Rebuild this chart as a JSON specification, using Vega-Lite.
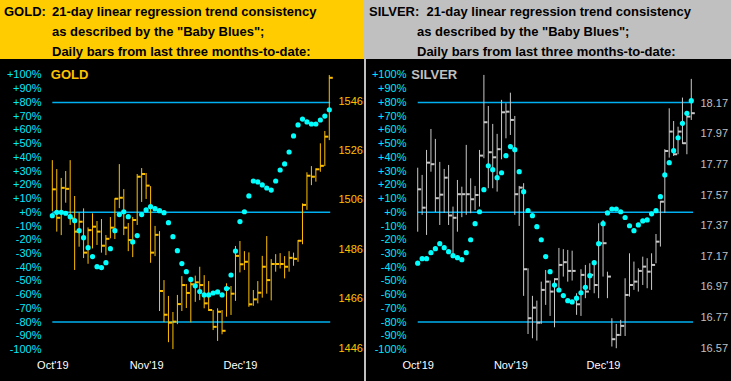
{
  "$schema": "https://vega.github.io/schema/vega-lite/v6.json",
  "background": "#c0c0c0",
  "padding": 0,
  "spacing": 2,
  "config": {"view": {"stroke": null}},
  "datasets": {
    "gold": [
      {"i":0,"h":1522.1,"l":1501.5,"c":1510.3,"p":-2.5},
      {"i":1,"h":1518.5,"l":1493.2,"c":1498.8,"p":0},
      {"i":2,"h":1514.9,"l":1491.8,"c":1510.9,"p":0},
      {"i":3,"h":1517.7,"l":1504.9,"c":1510.5,"p":-0.7},
      {"i":4,"h":1522.1,"l":1495.9,"c":1498.6,"p":-3.2},
      {"i":5,"h":1507.6,"l":1477.7,"c":1493.2,"p":-6.1},
      {"i":6,"h":1501.0,"l":1487.1,"c":1497.2,"p":-13.4},
      {"i":7,"h":1502.6,"l":1482.5,"c":1484.7,"p":-18.5},
      {"i":8,"h":1494.9,"l":1480.2,"c":1493.8,"p":-25.8},
      {"i":9,"h":1500.6,"l":1486.4,"c":1495.2,"p":-32.3},
      {"i":10,"h":1497.5,"l":1487.8,"c":1493.2,"p":-39.6},
      {"i":11,"h":1498.3,"l":1484.7,"c":1487.5,"p":-40.3},
      {"i":12,"h":1491.8,"l":1483.7,"c":1490.3,"p":-36.7},
      {"i":13,"h":1499.1,"l":1490.5,"c":1494.8,"p":-26.5},
      {"i":14,"h":1506.7,"l":1490.2,"c":1506.5,"p":-13.4},
      {"i":15,"h":1520.5,"l":1502.7,"c":1506.9,"p":-1.7},
      {"i":16,"h":1510.4,"l":1491.8,"c":1494.8,"p":0.4},
      {"i":17,"h":1496.7,"l":1485.3,"c":1489.8,"p":-3.2},
      {"i":18,"h":1499.1,"l":1482.9,"c":1497.9,"p":-21.6},
      {"i":19,"h":1516.5,"l":1495.9,"c":1515.4,"p":-17.0},
      {"i":20,"h":1518.9,"l":1505.2,"c":1516.5,"p":-1.7},
      {"i":21,"h":1516.9,"l":1506.4,"c":1511.8,"p":1.7},
      {"i":22,"h":1511.6,"l":1480.6,"c":1484.7,"p":4.1},
      {"i":23,"h":1495.5,"l":1483.3,"c":1491.9,"p":2.6},
      {"i":24,"h":1493.4,"l":1461.1,"c":1469.2,"p":1.2},
      {"i":25,"h":1473.6,"l":1456.6,"c":1459.6,"p":-0.3},
      {"i":26,"h":1467.2,"l":1448.5,"c":1456.4,"p":-7.6},
      {"i":27,"h":1460.7,"l":1445.7,"c":1456.8,"p":-17.8},
      {"i":28,"h":1467.6,"l":1455.8,"c":1463.9,"p":-28.0},
      {"i":29,"h":1475.2,"l":1461.1,"c":1471.6,"p":-37.4},
      {"i":30,"h":1472.0,"l":1462.3,"c":1468.4,"p":-43.3},
      {"i":31,"h":1474.3,"l":1456.5,"c":1471.9,"p":-48.9},
      {"i":32,"h":1475.4,"l":1464.8,"c":1472.7,"p":-53.6},
      {"i":33,"h":1479.0,"l":1465.5,"c":1471.6,"p":-57.7},
      {"i":34,"h":1475.6,"l":1462.2,"c":1464.2,"p":-60.2},
      {"i":35,"h":1473.2,"l":1461.1,"c":1461.5,"p":-60.2},
      {"i":36,"h":1461.5,"l":1453.4,"c":1454.7,"p":-58.8},
      {"i":37,"h":1462.2,"l":1449.0,"c":1460.8,"p":-58.0},
      {"i":38,"h":1461.5,"l":1451.7,"c":1453.1,"p":-60.2},
      {"i":39,"h":1472.3,"l":1458.8,"c":1470.3,"p":-55.6},
      {"i":40,"h":1471.2,"l":1459.5,"c":1468.1,"p":-45.7},
      {"i":41,"h":1487.4,"l":1465.2,"c":1483.4,"p":-28.2},
      {"i":42,"h":1489.4,"l":1476.7,"c":1480.0,"p":-6.8},
      {"i":43,"h":1485.3,"l":1477.7,"c":1481.0,"p":0.4},
      {"i":44,"h":1484.8,"l":1462.8,"c":1463.8,"p":11.9},
      {"i":45,"h":1469.6,"l":1463.2,"c":1465.8,"p":22.8},
      {"i":46,"h":1473.2,"l":1464.2,"c":1468.5,"p":22.1},
      {"i":47,"h":1483.4,"l":1466.5,"c":1479.0,"p":19.9},
      {"i":48,"h":1491.4,"l":1468.1,"c":1473.6,"p":17.7},
      {"i":49,"h":1482.1,"l":1465.4,"c":1480.1,"p":16.2},
      {"i":50,"h":1484.1,"l":1477.0,"c":1480.1,"p":22.8},
      {"i":51,"h":1484.5,"l":1478.3,"c":1480.1,"p":30.8},
      {"i":52,"h":1483.3,"l":1474.3,"c":1479.0,"p":35.2},
      {"i":53,"h":1485.3,"l":1477.0,"c":1482.6,"p":43.9},
      {"i":54,"h":1484.7,"l":1479.4,"c":1482.2,"p":55.6},
      {"i":55,"h":1489.8,"l":1481.0,"c":1489.5,"p":63.6},
      {"i":56,"h":1504.6,"l":1488.1,"c":1504.0,"p":67.9},
      {"i":57,"h":1517.2,"l":1502.0,"c":1515.8,"p":65.8},
      {"i":58,"h":1519.7,"l":1512.0,"c":1515.4,"p":64.3},
      {"i":59,"h":1518.8,"l":1513.4,"c":1518.4,"p":64.3},
      {"i":60,"h":1528.9,"l":1517.4,"c":1519.8,"p":67.2},
      {"i":61,"h":1533.9,"l":1519.7,"c":1531.6,"p":70.1},
      {"i":62,"h":1556.5,"l":1530.2,"c":1555.4,"p":74.7}
    ],
    "silver": [
      {"i":0,"h":17.749,"l":17.331,"c":17.608,"p":-37.1},
      {"i":1,"h":17.702,"l":17.441,"c":17.488,"p":-33.8},
      {"i":2,"h":17.865,"l":17.310,"c":17.782,"p":-33.8},
      {"i":3,"h":18.002,"l":17.723,"c":17.772,"p":-29.4},
      {"i":4,"h":17.937,"l":17.460,"c":17.550,"p":-26.5},
      {"i":5,"h":17.787,"l":17.375,"c":17.573,"p":-22.9},
      {"i":6,"h":17.741,"l":17.454,"c":17.684,"p":-25.8},
      {"i":7,"h":17.767,"l":17.375,"c":17.437,"p":-28.7},
      {"i":8,"h":17.495,"l":17.168,"c":17.422,"p":-31.6},
      {"i":9,"h":17.669,"l":17.331,"c":17.576,"p":-33.1},
      {"i":10,"h":17.625,"l":17.426,"c":17.576,"p":-34.5},
      {"i":11,"h":17.898,"l":17.441,"c":17.576,"p":-29.4},
      {"i":12,"h":17.680,"l":17.452,"c":17.543,"p":-20.0},
      {"i":13,"h":17.630,"l":17.473,"c":17.571,"p":-8.3},
      {"i":14,"h":17.865,"l":17.495,"c":17.828,"p":0.4},
      {"i":15,"h":18.355,"l":17.811,"c":18.046,"p":16.5},
      {"i":16,"h":18.152,"l":17.615,"c":17.850,"p":33.9},
      {"i":17,"h":18.035,"l":17.615,"c":17.817,"p":31.0},
      {"i":18,"h":17.970,"l":17.593,"c":17.870,"p":25.2},
      {"i":19,"h":18.192,"l":17.804,"c":18.111,"p":28.8},
      {"i":20,"h":18.170,"l":17.941,"c":18.115,"p":41.2},
      {"i":21,"h":18.239,"l":17.963,"c":18.061,"p":47.8},
      {"i":22,"h":18.087,"l":17.441,"c":17.576,"p":45.6},
      {"i":23,"h":17.630,"l":17.369,"c":17.619,"p":29.6},
      {"i":24,"h":17.648,"l":16.912,"c":17.086,"p":15.0},
      {"i":25,"h":17.092,"l":16.663,"c":16.766,"p":1.3},
      {"i":26,"h":16.912,"l":16.635,"c":16.835,"p":-2.5},
      {"i":27,"h":16.881,"l":16.620,"c":16.737,"p":-10.5},
      {"i":28,"h":17.005,"l":16.729,"c":16.951,"p":-20.0},
      {"i":29,"h":17.081,"l":16.853,"c":17.005,"p":-32.3},
      {"i":30,"h":17.012,"l":16.781,"c":16.940,"p":-43.3},
      {"i":31,"h":17.027,"l":16.707,"c":17.021,"p":-53.0},
      {"i":32,"h":17.225,"l":16.938,"c":17.114,"p":-56.6},
      {"i":33,"h":17.217,"l":17.038,"c":17.132,"p":-60.7},
      {"i":34,"h":17.212,"l":17.005,"c":17.075,"p":-64.4},
      {"i":35,"h":17.207,"l":17.012,"c":17.075,"p":-65.3},
      {"i":36,"h":16.929,"l":16.788,"c":16.857,"p":-62.6},
      {"i":37,"h":17.086,"l":16.781,"c":17.049,"p":-58.6},
      {"i":38,"h":17.114,"l":16.897,"c":16.940,"p":-54.6},
      {"i":39,"h":17.125,"l":16.951,"c":17.049,"p":-46.2},
      {"i":40,"h":17.136,"l":16.929,"c":16.983,"p":-36.7},
      {"i":41,"h":17.386,"l":16.897,"c":17.256,"p":-22.9},
      {"i":42,"h":17.408,"l":17.038,"c":17.256,"p":-8.3},
      {"i":43,"h":17.070,"l":16.897,"c":17.038,"p":-0.5},
      {"i":44,"h":16.766,"l":16.581,"c":16.629,"p":2.4},
      {"i":45,"h":16.729,"l":16.570,"c":16.657,"p":2.4},
      {"i":46,"h":16.755,"l":16.650,"c":16.716,"p":0.4},
      {"i":47,"h":17.027,"l":16.650,"c":16.918,"p":-3.8},
      {"i":48,"h":17.190,"l":16.907,"c":16.983,"p":-9.8},
      {"i":49,"h":17.136,"l":16.951,"c":17.005,"p":-13.4},
      {"i":50,"h":17.092,"l":16.940,"c":17.075,"p":-9.2},
      {"i":51,"h":17.168,"l":16.983,"c":17.103,"p":-6.3},
      {"i":52,"h":17.158,"l":16.962,"c":17.070,"p":-5.6},
      {"i":53,"h":17.190,"l":16.951,"c":17.114,"p":-1.1},
      {"i":54,"h":17.316,"l":17.125,"c":17.266,"p":1.2},
      {"i":55,"h":17.532,"l":17.234,"c":17.527,"p":11.4},
      {"i":56,"h":17.870,"l":17.454,"c":17.858,"p":27.2},
      {"i":57,"h":18.137,"l":17.815,"c":17.985,"p":36.1},
      {"i":58,"h":18.054,"l":17.826,"c":17.837,"p":44.9},
      {"i":59,"h":18.017,"l":17.837,"c":17.985,"p":54.3},
      {"i":60,"h":18.207,"l":17.904,"c":17.909,"p":64.8},
      {"i":61,"h":18.120,"l":17.837,"c":18.083,"p":72.1},
      {"i":62,"h":18.329,"l":18.061,"c":18.105,"p":81.3}
    ],
    "lines": [{"v":80},{"v":0},{"v":-80}]
  },
  "hconcat": [
    {
      "spacing": 0,
      "vconcat": [
        {
          "width": 364, "height": 59,
          "view": {"fill": "#FFCC00", "stroke": null},
          "data": {"values": [
            {"col":"a","line":1,"t":"GOLD:"},
            {"col":"b","line":1,"t":"21-day linear regression trend consistency"},
            {"col":"b","line":2,"t":"as described by the \"Baby Blues\";"},
            {"col":"b","line":3,"t":"Daily bars from last three months-to-date:"}
          ]},
          "mark": {"type":"text","align":"left","baseline":"alphabetic","font":"Liberation Sans","fontSize":13,"fontWeight":"bold","color":"#000000"},
          "encoding": {
            "x": {"field":"col","type":"nominal","scale":{"type":"point","range":[4,52],"padding":0},"axis":null},
            "y": {"field":"line","type":"ordinal","scale":{"type":"point","range":[16,55.5],"padding":0},"axis":null},
            "text": {"field":"t"}
          }
        },
        {
          "width": 364, "height": 322,
          "view": {"fill": "#000000", "stroke": null},
          "resolve": {"scale": {"y": "independent"}, "axis": {"y": "independent"}},
          "layer": [
            {
              "data": {"name": "lines"},
              "mark": {"type":"rule","color":"#00B0F0","strokeWidth":1.5},
              "encoding": {
                "x": {"datum": 0, "type":"quantitative","scale":{"domain":[-11.71,69.77],"nice":false,"zero":false},
                      "axis":{"values":[0,21,42],"labelExpr":"datum.value == 0 ? \"Oct'19\" : datum.value == 21 ? \"Nov'19\" : \"Dec'19\"","title":null,"grid":false,"domain":false,"ticks":false,"tickSize":0,"labelColor":"#FFFFFF","labelFont":"Liberation Sans","labelFontSize":11,"labelPadding":-16,"labelBaseline":"middle","labelFlush":false,"labelOverlap":false}},
                "x2": {"datum": 62.2},
                "y": {"field":"v","type":"quantitative","scale":{"domain":[-122.9,111.65],"nice":false,"zero":false},
                      "axis":{"orient":"left","values":[-100,-90,-80,-70,-60,-50,-40,-30,-20,-10,0,10,20,30,40,50,60,70,80,90,100],"labelExpr":"(datum.value >= 0 ? '+' : '') + datum.value + '%'","title":null,"grid":false,"domain":false,"ticks":false,"tickSize":0,"labelColor":"#00E8FF","labelFont":"Liberation Sans","labelFontSize":11,"labelPadding":-41,"labelBaseline":"middle","labelOverlap":false,"labelFlush":false}}
              }
            },
            {
              "data": {"name": "gold"},
              "mark": {"type":"rule","color":"#FFC000","strokeWidth":1},
              "encoding": {
                "x": {"field":"i","type":"quantitative","scale":{"domain":[-11.71,69.77],"nice":false,"zero":false}},
                "y": {"field":"l","type":"quantitative","scale":{"domain":[1432.8,1563.0],"nice":false,"zero":false},
                      "axis":{"orient":"right","values":[1446,1466,1486,1506,1526,1546],"format":"d","title":null,"grid":false,"domain":false,"ticks":false,"tickSize":0,"labelColor":"#FFC000","labelFont":"Liberation Sans","labelFontSize":11,"labelPadding":-26,"labelBaseline":"middle","labelOverlap":false,"labelFlush":false}},
                "y2": {"field":"h"}
              }
            },
            {
              "data": {"name": "gold"},
              "mark": {"type":"rule","color":"#FFC000","strokeWidth":2,"x2Offset":3.5},
              "encoding": {
                "x": {"field":"i","type":"quantitative","scale":{"domain":[-11.71,69.77],"nice":false,"zero":false}},
                "x2": {"field":"i"},
                "y": {"field":"c","type":"quantitative","scale":{"domain":[1432.8,1563.0],"nice":false,"zero":false},"axis":null}
              }
            },
            {
              "data": {"name": "gold"},
              "mark": {"type":"point","filled":true,"shape":"circle","size":27,"color":"#00FFFF","opacity":1},
              "encoding": {
                "x": {"field":"i","type":"quantitative","scale":{"domain":[-11.71,69.77],"nice":false,"zero":false}},
                "y": {"field":"p","type":"quantitative","scale":{"domain":[-122.9,111.65],"nice":false,"zero":false},"axis":null}
              }
            },
            {
              "data": {"values": [{"t":"GOLD"}]},
              "mark": {"type":"text","align":"left","baseline":"middle","font":"Liberation Sans","fontSize":13,"fontWeight":"bold","color":"#FFC000","dx":-1.5},
              "encoding": {
                "x": {"datum": 0, "type":"quantitative","scale":{"domain":[-11.71,69.77],"nice":false,"zero":false}},
                "y": {"datum": 100, "type":"quantitative","scale":{"domain":[-122.9,111.65],"nice":false,"zero":false},"axis":null},
                "text": {"field":"t"}
              }
            }
          ]
        }
      ]
    },
    {
      "spacing": 0,
      "vconcat": [
        {
          "width": 365, "height": 59,
          "view": {"fill": "#C0C0C0", "stroke": null},
          "data": {"values": [
            {"col":"a","line":1,"t":"SILVER:\u00a0\u00a021-day linear regression trend consistency"},
            {"col":"b","line":2,"t":"as described by the \"Baby Blues\";"},
            {"col":"b","line":3,"t":"Daily bars from last three months-to-date:"}
          ]},
          "mark": {"type":"text","align":"left","baseline":"alphabetic","font":"Liberation Sans","fontSize":13,"fontWeight":"bold","color":"#000000"},
          "encoding": {
            "x": {"field":"col","type":"nominal","scale":{"type":"point","range":[3,51],"padding":0},"axis":null},
            "y": {"field":"line","type":"ordinal","scale":{"type":"point","range":[16,55.5],"padding":0},"axis":null},
            "text": {"field":"t"}
          }
        },
        {
          "width": 365, "height": 322,
          "view": {"fill": "#000000", "stroke": null},
          "resolve": {"scale": {"y": "independent"}, "axis": {"y": "independent"}},
          "layer": [
            {
              "data": {"name": "lines"},
              "mark": {"type":"rule","color":"#00B0F0","strokeWidth":1.5},
              "encoding": {
                "x": {"datum": 0, "type":"quantitative","scale":{"domain":[-11.72,71.0],"nice":false,"zero":false},
                      "axis":{"values":[0,21,42],"labelExpr":"datum.value == 0 ? \"Oct'19\" : datum.value == 21 ? \"Nov'19\" : \"Dec'19\"","title":null,"grid":false,"domain":false,"ticks":false,"tickSize":0,"labelColor":"#FFFFFF","labelFont":"Liberation Sans","labelFontSize":11,"labelPadding":-16,"labelBaseline":"middle","labelFlush":false,"labelOverlap":false}},
                "x2": {"datum": 62.4},
                "y": {"field":"v","type":"quantitative","scale":{"domain":[-122.9,111.65],"nice":false,"zero":false},
                      "axis":{"orient":"left","values":[-100,-90,-80,-70,-60,-50,-40,-30,-20,-10,0,10,20,30,40,50,60,70,80,90,100],"labelExpr":"(datum.value >= 0 ? '+' : '') + datum.value + '%'","title":null,"grid":false,"domain":false,"ticks":false,"tickSize":0,"labelColor":"#00E8FF","labelFont":"Liberation Sans","labelFontSize":11,"labelPadding":-40,"labelBaseline":"middle","labelOverlap":false,"labelFlush":false}}
              }
            },
            {
              "data": {"name": "silver"},
              "mark": {"type":"rule","color":"#C8C8C8","strokeWidth":1},
              "encoding": {
                "x": {"field":"i","type":"quantitative","scale":{"domain":[-11.72,71.0],"nice":false,"zero":false}},
                "y": {"field":"l","type":"quantitative","scale":{"domain":[16.356,18.459],"nice":false,"zero":false},
                      "axis":{"orient":"right","values":[16.57,16.77,16.97,17.17,17.37,17.57,17.77,17.97,18.17],"format":".2f","title":null,"grid":false,"domain":false,"ticks":false,"tickSize":0,"labelColor":"#C0C0C0","labelFont":"Liberation Sans","labelFontSize":11,"labelPadding":-31,"labelBaseline":"middle","labelOverlap":false,"labelFlush":false}},
                "y2": {"field":"h"}
              }
            },
            {
              "data": {"name": "silver"},
              "mark": {"type":"rule","color":"#C8C8C8","strokeWidth":2,"x2Offset":3.5},
              "encoding": {
                "x": {"field":"i","type":"quantitative","scale":{"domain":[-11.72,71.0],"nice":false,"zero":false}},
                "x2": {"field":"i"},
                "y": {"field":"c","type":"quantitative","scale":{"domain":[16.356,18.459],"nice":false,"zero":false},"axis":null}
              }
            },
            {
              "data": {"name": "silver"},
              "mark": {"type":"point","filled":true,"shape":"circle","size":27,"color":"#00FFFF","opacity":1},
              "encoding": {
                "x": {"field":"i","type":"quantitative","scale":{"domain":[-11.72,71.0],"nice":false,"zero":false}},
                "y": {"field":"p","type":"quantitative","scale":{"domain":[-122.9,111.65],"nice":false,"zero":false},"axis":null}
              }
            },
            {
              "data": {"values": [{"t":"SILVER"}]},
              "mark": {"type":"text","align":"left","baseline":"middle","font":"Liberation Sans","fontSize":13,"fontWeight":"bold","color":"#C0C0C0","dx":-6.5},
              "encoding": {
                "x": {"datum": 0, "type":"quantitative","scale":{"domain":[-11.72,71.0],"nice":false,"zero":false}},
                "y": {"datum": 100, "type":"quantitative","scale":{"domain":[-122.9,111.65],"nice":false,"zero":false},"axis":null},
                "text": {"field":"t"}
              }
            }
          ]
        }
      ]
    }
  ]
}
